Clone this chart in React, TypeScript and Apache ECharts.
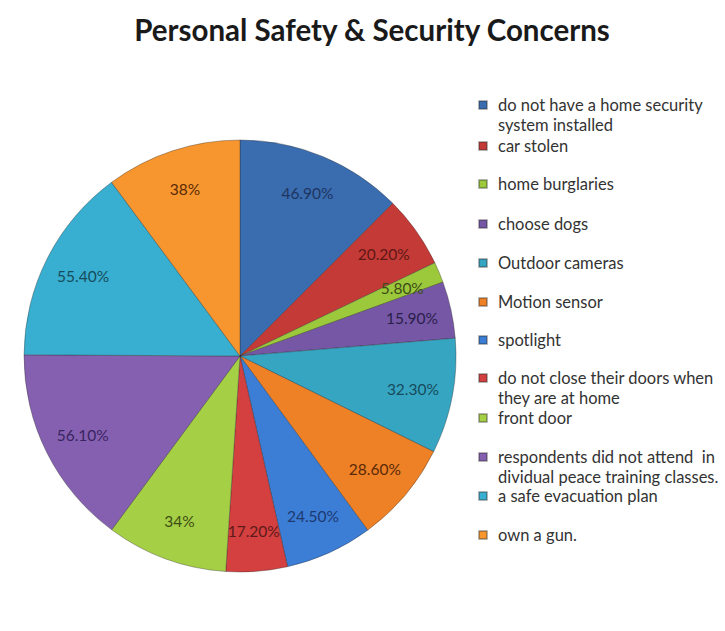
import { useEffect, useRef } from 'react';
import * as echarts from 'echarts';

const TITLE = 'Personal Safety & Security Concerns';

const categories = [
  'do not have a home security system installed',
  'car stolen',
  'home burglaries',
  'choose dogs',
  'Outdoor cameras',
  'Motion sensor',
  'spotlight',
  'do not close their doors when they are at home',
  'front door',
  'respondents did not attend in dividual peace training classes.',
  'a safe evacuation plan',
  'own a gun.',
];

const values = [46.9, 20.2, 5.8, 15.9, 32.3, 28.6, 24.5, 17.2, 34, 56.1, 55.4, 38];

const SLICE_COLORS = [
  '#3A6CB0', '#C43A36', '#9CC83C', '#7657A6', '#35A5C2', '#EE8026',
  '#3C7DD6', '#D43F3F', '#A5CF45', '#8560B0', '#38AED0', '#F7962E',
];
const LABEL_COLORS = [
  '#1E3560', '#5E1816', '#3D4D16', '#2A1E4A', '#174C5C', '#5A2A08',
  '#1E3A70', '#5E1A1A', '#3D4D16', '#3A2460', '#174C5C', '#5A2A08',
];

// vertical centre (px) of each legend row's marker
const LEGEND_ROW_Y = [105, 146, 184, 224, 263, 302, 340, 378, 418, 457, 496, 535];

const FONT = 'Lato, "Open Sans", sans-serif';

function formatPct(v: number): string {
  return Number.isInteger(v) ? `${v}%` : `${v.toFixed(2)}%`;
}

function wrapLegend(name: string): string {
  return name
    .replace('home security ', 'home security\n')
    .replace('doors when ', 'doors when\n')
    .replace('attend in ', 'attend  in\n');
}

export default function App() {
  const ref = useRef<HTMLDivElement>(null);

  useEffect(() => {
    if (!ref.current) return;
    const chart = echarts.init(ref.current, undefined, { renderer: 'svg' });
    const center = [240, 356];
    const R = 216;
    const LINE_H = 20;

    const legends = categories.map((n, i) => {
      const extra = wrapLegend(n).split('\n').length - 1;
      const cy = LEGEND_ROW_Y[i];
      return {
        orient: 'vertical',
        left: 478,
        top: Math.round(cy - LINE_H / 2 - LINE_H * extra),
        padding: 0,
        itemWidth: 8,
        itemHeight: 8,
        icon: 'rect',
        selectedMode: false,
        data: [{ name: n, itemStyle: { color: SLICE_COLORS[i] } }],
        // blank leading lines keep the first line of text level with the marker
        formatter: (name: string) => '\n'.repeat(extra) + wrapLegend(name),
        textStyle: {
          fontFamily: FONT,
          fontSize: 16.5,
          color: '#333333',
          lineHeight: LINE_H,
          padding: [0, 0, 0, 6],
        },
      };
    });

    chart.setOption({
      animation: false,
      backgroundColor: '#ffffff',
      title: {
        text: TITLE,
        left: 372,
        top: 14,
        padding: 0,
        textAlign: 'center',
        textStyle: {
          fontFamily: FONT,
          fontSize: 29.5,
          fontWeight: 'bold',
          color: '#1a1a1a',
        },
      },
      legend: legends,
      series: [
        {
          type: 'pie',
          center,
          radius: [0, R],
          startAngle: 90,
          clockwise: true,
          silent: true,
          avoidLabelOverlap: false,
          label: { show: false },
          labelLine: { show: false },
          itemStyle: { borderColor: 'rgba(40,40,40,0.35)', borderWidth: 1 },
          data: categories.map((n, i) => ({
            name: n,
            value: values[i],
            itemStyle: { color: SLICE_COLORS[i] },
          })),
        },
        {
          type: 'pie',
          center,
          radius: [130, R],
          startAngle: 90,
          clockwise: true,
          silent: true,
          avoidLabelOverlap: false,
          labelLine: { show: false },
          itemStyle: { color: 'rgba(0,0,0,0)', borderWidth: 0 },
          label: {
            show: true,
            position: 'inside',
            fontFamily: FONT,
            fontSize: 15.5,
            formatter: (p: any) => formatPct(p.value),
          },
          data: categories.map((n, i) => ({
            name: n,
            value: values[i],
            label: { color: LABEL_COLORS[i] },
          })),
        },
      ],
    });
    return () => chart.dispose();
  }, []);

  return (
    <div
      ref={ref}
      style={{ position: 'absolute', left: 0, top: 0, width: 725, height: 631, background: '#fff' }}
    />
  );
}
